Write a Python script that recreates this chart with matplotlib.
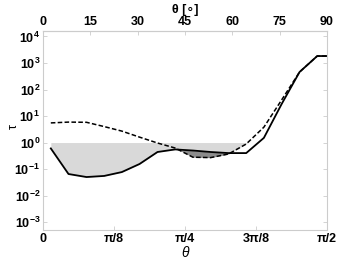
import numpy as np
import matplotlib
matplotlib.use("Agg")
import matplotlib.pyplot as plt

plt.rcParams['font.family'] = ['Liberation Sans', 'DejaVu Sans']
plt.rcParams['font.weight'] = 'bold'
plt.rcParams['mathtext.fontset'] = 'custom'
plt.rcParams['mathtext.rm'] = 'Liberation Sans:bold'
plt.rcParams['mathtext.bf'] = 'Liberation Sans:bold'
plt.rcParams['mathtext.it'] = 'Liberation Sans:bold:italic'
plt.rcParams['mathtext.default'] = 'bf'

# angle in degrees
theta_deg = [2.5, 8.1, 13.8, 19.4, 25.0, 30.6, 36.3, 41.9, 47.5, 53.1,
             58.8, 64.4, 70.0, 75.6, 81.3, 86.9, 90.0]
tau_solid = [0.6, 0.065, 0.05, 0.055, 0.077, 0.155, 0.44, 0.55, 0.5, 0.44,
             0.4, 0.4, 1.5, 28, 457, 1830, 1830]
tau_dashed = [5.5, 5.9, 5.8, 4.0, 2.7, 1.6, 0.96, 0.62, 0.28, 0.27,
              0.37, 0.88, 3.8, 40, 457, 1830, 1830]

xticks = [0, np.pi/8, np.pi/4, 3*np.pi/8, np.pi/2]
xticklabels = ['0', 'π/8', 'π/4', '3π/8', 'π/2']
top_ticks = [0, 15, 30, 45, 60, 75, 90]

th = np.radians(theta_deg)
ls = np.log10(tau_solid)
ld = np.log10(tau_dashed)

# fine grid for the shaded regions
xs = np.linspace(th[0], th[-1], 2000)
s = np.interp(xs, th, ls)
d = np.interp(xs, th, ld)
# second crossing where the dashed curve goes back above the solid one
below = d < s
idx = np.where(below)[0]
xc = xs[idx[-1]]
lower = np.where(xs <= xc, s, d)

fig = plt.figure(figsize=(3.49, 2.62), dpi=100)
ax = fig.add_axes([0.123, 0.122, 0.814, 0.76])

ax.fill_between(xs, 10**lower, 1, where=lower < 0, color='#d9d9d9', lw=0)
ax.fill_between(xs, 10**d, 10**s, where=below & (s < 0), color='#8c8c8c', lw=0)

ax.plot(th, tau_solid, color='black', lw=1.3)
ax.plot(th, tau_dashed, color='black', lw=1.1, ls=(0, (3, 1.5)))

ax.set_yscale('log')
ax.set_xlim(0, np.pi/2)
ax.set_ylim(10**-3.3, 10**4.21)
ax.set_yticks([10.0**k for k in range(-3, 5)])
ax.set_xticks(xticks)
ax.set_xticklabels(xticklabels)

for sp in ax.spines.values():
    sp.set_color('#cccccc')
ax.tick_params(which='both', direction='in', color='#cccccc', labelsize=9,
               right=True, length=3, width=0.6, pad=2)
ax.tick_params(which='minor', length=1.5)

ax.set_xlabel('θ', fontsize=10, style='italic', labelpad=1)
ax.set_ylabel('τ', fontsize=9)
ax.yaxis.set_label_coords(-0.08, 0.52)

sec = ax.secondary_xaxis('top', functions=(np.degrees, np.radians))
sec.set_xticks(top_ticks)
sec.spines['top'].set_color('#cccccc')
sec.tick_params(direction='in', color='#cccccc', labelsize=9, length=3,
                width=0.6, pad=2)
sec.set_xlabel('θ [∘]', fontsize=9, fontweight='bold', labelpad=2)

fig.savefig('out.png', dpi=100)
